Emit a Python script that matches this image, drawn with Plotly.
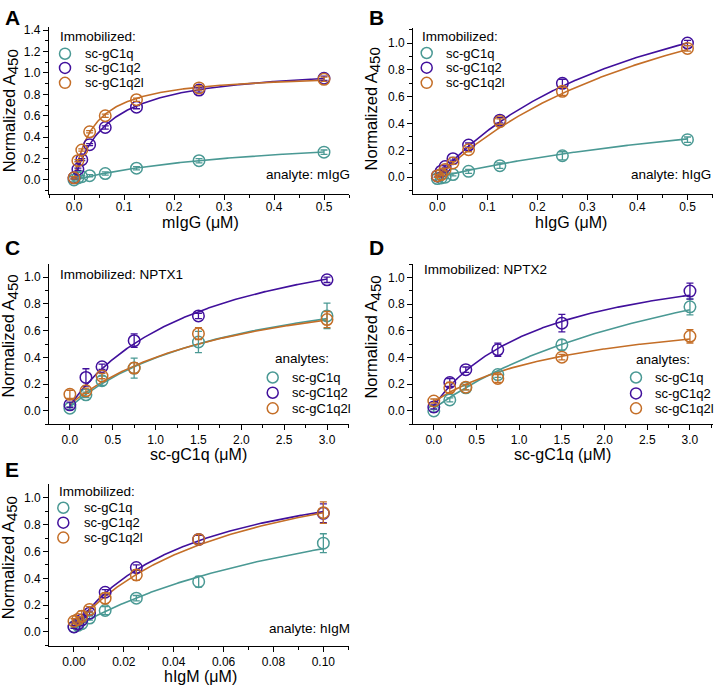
import numpy as np
import plotly.graph_objects as go

W, H = 714, 685
FONT = "Arial, Liberation Sans, sans-serif"
TEAL = "#4A9994"
PURPLE = "#41109C"
ORANGE = "#C46E27"
COLORS = [TEAL, PURPLE, ORANGE]
NAMES = ["sc-gC1q", "sc-gC1q2", "sc-gC1q2l"]

# ---------------- data ----------------
# Panel A: analyte mIgG
A_x = [0, 0.0078, 0.0156, 0.03125, 0.0625, 0.125, 0.25, 0.5]
A_teal = [0.00, 0.02, 0.03, 0.04, 0.06, 0.11, 0.18, 0.26]
A_purple = [0.02, 0.10, 0.19, 0.33, 0.49, 0.68, 0.84, 0.95]
A_orange = [0.02, 0.18, 0.28, 0.45, 0.60, 0.75, 0.86, 0.94]
A_err = [0.01, 0.01, 0.01, 0.01, 0.015, 0.015, 0.02, 0.02]
A_y0 = [0.0, 0.0, 0.005]
A_bmax = [0.47, 1.08, 1.0]
A_kd = [0.4, 0.07, 0.04]

# Panel B: analyte hIgG
B_x = [0, 0.0078, 0.0156, 0.03125, 0.0625, 0.125, 0.25, 0.5]
B_teal = [-0.01, -0.005, 0.0, 0.02, 0.044, 0.086, 0.16, 0.28]
B_purple = [0.01, 0.045, 0.08, 0.138, 0.24, 0.425, 0.70, 1.0]
B_orange = [0.01, 0.02, 0.057, 0.106, 0.205, 0.415, 0.64, 0.96]
B_err = [0.01, 0.01, 0.01, 0.01, 0.015, 0.02, 0.03, 0.02]
B_y0 = [0.0, 0.0, 0.0]
B_bmax = [0.8, 1.9, 2.0]
B_kd = [0.9, 0.45, 0.55]

# Panel C: immobilized NPTX1, analyte sc-gC1q variants
C_x = [0, 0.1875, 0.375, 0.75, 1.5, 3.0]
C_teal = [0.02, 0.12, 0.225, 0.32, 0.515, 0.71]
C_teal_err = [0.01, 0.02, 0.035, 0.075, 0.08, 0.095]
C_purple = [0.045, 0.25, 0.33, 0.525, 0.71, 0.98]
C_purple_err = [0.02, 0.065, 0.02, 0.05, 0.02, 0.02]
C_orange = [0.124, 0.15, 0.26, 0.32, 0.577, 0.683]
C_orange_err = [0.03, 0.02, 0.02, 0.04, 0.045, 0.06]
C_y0 = [0.03, 0.04, 0.05]
C_bmax = [1.1, 1.45, 1.05]
C_kd = [2.0, 1.6, 2.0]

# Panel D: immobilized NPTX2
D_x = [0, 0.1875, 0.375, 0.75, 1.5, 3.0]
D_teal = [0.0, 0.082, 0.173, 0.272, 0.495, 0.78]
D_teal_err = [0.01, 0.015, 0.015, 0.02, 0.04, 0.06]
D_purple = [0.03, 0.213, 0.309, 0.458, 0.658, 0.898]
D_purple_err = [0.015, 0.03, 0.02, 0.05, 0.065, 0.06]
D_orange = [0.074, 0.173, 0.178, 0.243, 0.403, 0.559]
D_orange_err = [0.015, 0.04, 0.02, 0.03, 0.02, 0.05]
D_y0 = [0.02, 0.04, 0.07]
D_bmax = [1.6, 1.2, 0.75]
D_kd = [3.5, 1.35, 1.8]

# Panel E: analyte hIgM
E_x = [0, 0.00156, 0.003125, 0.00625, 0.0125, 0.025, 0.05, 0.1]
E_teal = [0.04, 0.05, 0.062, 0.104, 0.16, 0.252, 0.375, 0.662]
E_teal_err = [0.01, 0.01, 0.01, 0.015, 0.03, 0.02, 0.04, 0.07]
E_purple = [0.037, 0.06, 0.09, 0.14, 0.296, 0.48, 0.69, 0.884]
E_purple_err = [0.01, 0.01, 0.015, 0.015, 0.02, 0.02, 0.03, 0.07]
E_orange = [0.08, 0.094, 0.118, 0.168, 0.252, 0.425, 0.69, 0.889]
E_orange_err = [0.02, 0.02, 0.04, 0.02, 0.04, 0.04, 0.035, 0.08]
E_y0 = [0.03, 0.03, 0.04]
E_bmax = [1.3, 1.3, 1.4]
E_kd = [0.12, 0.05, 0.065]

# ---------------- layout helpers ----------------
def px_x(p):
    return p / W

def px_y(p):
    return 1 - p / H

panels = [
    dict(x=A_x, ys=[A_teal, A_purple, A_orange], errs=[A_err, A_err, A_err],
         y0=A_y0, bmax=A_bmax, kd=A_kd, xd=(49, 349), yd=(23, 191),
         xr=[-0.05, 0.55], yr=[-0.13, 1.43], xdt=0.1, xfmt=".1f", ydt=0.2, so=-3),
    dict(x=B_x, ys=[B_teal, B_purple, B_orange], errs=[B_err, B_err, B_err],
         y0=B_y0, bmax=B_bmax, kd=B_kd, xd=(413.3, 713), yd=(24, 191),
         xr=[-0.048, 0.551], yr=[-0.124, 1.113], xdt=0.1, xfmt=".1f", ydt=0.2, so=-3),
    dict(x=C_x, ys=[C_teal, C_purple, C_orange], errs=[C_teal_err, C_purple_err, C_orange_err],
         y0=C_y0, bmax=C_bmax, kd=C_kd, xd=(49.3, 349.3), yd=(261.7, 422.7),
         xr=[-0.24, 3.26], yr=[-0.1, 1.097], xdt=0.5, xfmt=".1f", ydt=0.2, so=-1),
    dict(x=D_x, ys=[D_teal, D_purple, D_orange], errs=[D_teal_err, D_purple_err, D_orange_err],
         y0=D_y0, bmax=D_bmax, kd=D_kd, xd=(413.3, 713), yd=(261.7, 422.7),
         xr=[-0.24, 3.27], yr=[-0.1, 1.1], xdt=0.5, xfmt=".1f", ydt=0.2, so=-1),
    dict(x=E_x, ys=[E_teal, E_purple, E_orange], errs=[E_teal_err, E_purple_err, E_orange_err],
         y0=E_y0, bmax=E_bmax, kd=E_kd, xd=(49.3, 349.3), yd=(483.3, 646),
         xr=[-0.0099, 0.1104], yr=[-0.106, 1.099], xdt=0.02, xfmt=".2f", ydt=0.2, so=-1),
]

fig = go.Figure()
layout = {}
for i, p in enumerate(panels):
    n = "" if i == 0 else str(i + 1)
    xa, ya = "x" + n, "y" + n
    # fitted binding curves (fit parameters)
    for c in range(3):
        xf = np.linspace(0, max(p["x"]), 300)
        yf = p["y0"][c] + p["bmax"][c] * xf / (p["kd"][c] + xf)
        fig.add_trace(go.Scatter(x=xf, y=yf, mode="lines", xaxis=xa, yaxis=ya,
                                 line=dict(color=COLORS[c], width=1.6),
                                 showlegend=False, hoverinfo="skip"))
    # data points
    for c in range(3):
        fig.add_trace(go.Scatter(
            x=p["x"], y=p["ys"][c], mode="markers", xaxis=xa, yaxis=ya,
            name=NAMES[c], showlegend=False,
            marker=dict(symbol="circle-open", size=11.5, color=COLORS[c],
                        line=dict(width=1.5, color=COLORS[c])),
            error_y=dict(type="data", array=p["errs"][c], color=COLORS[c],
                         thickness=1.3, width=3.5)))
    common = dict(showline=True, linecolor="black", linewidth=1.3, mirror=False,
                  showgrid=False, zeroline=False, ticks="outside", ticklen=5,
                  tickwidth=1.2, tickcolor="black",
                  tickfont=dict(family=FONT, size=12, color="black"))
    layout["xaxis" + n] = dict(
        domain=[px_x(p["xd"][0]), px_x(p["xd"][1])], range=p["xr"],
        anchor=ya, dtick=p["xdt"], tick0=0, tickformat=p["xfmt"],
        ticklabelstandoff=p["so"],
        minor=dict(ticks="outside", ticklen=3, dtick=p["xdt"] / 2, tick0=0,
                   tickcolor="black", tickwidth=1.2),
        **common)
    layout["yaxis" + n] = dict(
        domain=[px_y(p["yd"][1]), px_y(p["yd"][0])], range=p["yr"],
        anchor=xa, dtick=p["ydt"], tick0=0, tickformat=".1f",
        minor=dict(ticks="outside", ticklen=3, dtick=p["ydt"] / 2, tick0=0,
                   tickcolor="black", tickwidth=1.2),
        **common)

annotations = []
shapes = []

def text(px, py, s, size=13.5, xanchor="left", angle=0):
    annotations.append(dict(
        x=px_x(px), y=px_y(py), xref="paper", yref="paper", text=s,
        showarrow=False, xanchor=xanchor, yanchor="middle", textangle=angle,
        font=dict(family=FONT, size=size, color="black"),
    ))

def circle(px, py, color):
    shapes.append(dict(type="circle", xref="paper", yref="paper",
                       xsizemode="pixel", ysizemode="pixel",
                       xanchor=px_x(px), yanchor=px_y(py),
                       x0=-5.5, x1=5.5, y0=-5.5, y1=5.5,
                       line=dict(color=color, width=1.5)))

# panel letters
for L, lx, ly in [("A", 3, 14), ("B", 367, 14), ("C", 3, 244.5), ("D", 367, 244.5), ("E", 3, 468)]:
    text(lx, ly, "<b>%s</b>" % L, size=21)

# axis titles
ytitle = "Normalized A<sub><span style='font-size:15px'>450</span></sub>"
for tx, ty in [(10, 108), (372, 106), (9.5, 334), (372.5, 335), (9.5, 557)]:
    text(tx, ty, ytitle, size=16.5, xanchor="center", angle=-90)
for s, tx, ty in [("mIgG (\u03bcM)", 200, 220), ("hIgG (\u03bcM)", 571, 220),
                  ("sc-gC1q (\u03bcM)", 198, 453.5), ("sc-gC1q (\u03bcM)", 562, 453.5),
                  ("hIgM (\u03bcM)", 200, 676)]:
    text(tx, ty, s, size=16, xanchor="center")

# legends
def legend(hx, hy, header, cx, lx, rows):
    text(hx, hy, header)
    for c, ry in enumerate(rows):
        circle(cx, ry, COLORS[c])
        text(lx, ry, NAMES[c], size=13)

legend(58, 32.7, "Immobilized:", 65, 82.7, [50, 64.3, 79.3])
legend(420, 32.7, "Immobilized:", 426.7, 444.3, [49.3, 64, 79.3])
legend(273, 356.7, "analytes:", 272.7, 290, [375.7, 391, 406.7])
legend(634.3, 357.7, "analytes:", 636, 653.3, [375.7, 391.7, 406.7])
legend(56.7, 490, "Immobilized:", 63.3, 81.7, [506.7, 521.7, 536.7])

text(58, 271.7, "Immobilized: NPTX1")
text(421.7, 266.7, "Immobilized: NPTX2")
text(352, 171.7, "analyte: mIgG", xanchor="right")
text(713, 171.7, "analyte: hIgG", xanchor="right")
text(352, 627.7, "analyte: hIgM", xanchor="right")

fig.update_layout(
    width=W, height=H, margin=dict(l=0, r=0, t=0, b=0),
    paper_bgcolor="white", plot_bgcolor="white",
    annotations=annotations, shapes=shapes, showlegend=False,
    font=dict(family=FONT, color="black"),
    **layout,
)
fig.write_html("out.html", config={"displayModeBar": False},
               post_script="document.body.style.margin='0';document.body.style.overflow='hidden';")
